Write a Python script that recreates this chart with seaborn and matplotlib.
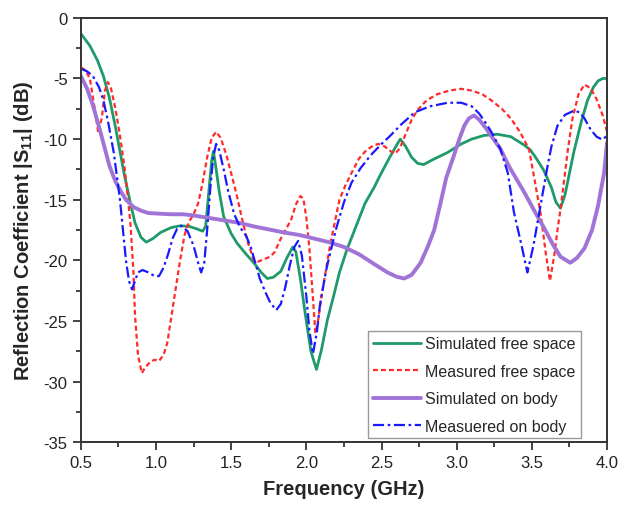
import matplotlib
matplotlib.use("Agg")
import matplotlib.pyplot as plt
import seaborn as sns
import pandas as pd

# ---- data ----
sim_free_x = [0.50, 0.56, 0.61, 0.65, 0.69, 0.73, 0.76, 0.79, 0.83, 0.86, 0.90, 0.935, 0.98, 1.03, 1.10,
              1.16, 1.22, 1.27, 1.31, 1.33, 1.35, 1.37, 1.382, 1.40, 1.42, 1.45, 1.50, 1.54, 1.60, 1.65,
              1.70, 1.74, 1.78, 1.83, 1.87, 1.91, 1.93, 1.96, 1.99, 2.03, 2.067, 2.10, 2.14, 2.18, 2.22,
              2.27, 2.33, 2.39, 2.45, 2.49, 2.55, 2.60, 2.625, 2.66, 2.70, 2.74, 2.78, 2.84, 2.94, 3.03,
              3.10, 3.18, 3.27, 3.36, 3.45, 3.49, 3.53, 3.58, 3.63, 3.66, 3.69, 3.72, 3.75, 3.78, 3.83,
              3.87, 3.91, 3.94, 3.97, 4.00]
sim_free_y = [-1.3, -2.3, -3.5, -4.8, -6.6, -9.0, -11.0, -13.0, -15.3, -16.9, -18.1, -18.5, -18.2, -17.7, -17.3,
              -17.15, -17.2, -17.4, -17.6, -17.2, -14.5, -11.8, -11.0, -12.5, -14.3, -16.4, -17.8, -18.6, -19.5, -20.2,
              -21.0, -21.5, -21.4, -20.9, -19.8, -18.9, -19.3, -21.5, -24.2, -27.5, -29.0, -27.4, -24.9, -23.0, -21.0,
              -19.1, -17.2, -15.3, -14.0, -13.0, -11.6, -10.5, -10.0, -10.6, -11.5, -12.0, -12.1, -11.7, -11.1, -10.4,
              -10.0, -9.7, -9.6, -9.8, -10.5, -10.9, -11.6, -12.6, -14.0, -15.2, -15.7, -14.6, -12.8, -11.0, -8.5,
              -6.8, -5.7, -5.2, -5.0, -5.0]

meas_free_x = [0.50, 0.53, 0.56, 0.59, 0.616, 0.64, 0.66, 0.68, 0.70, 0.73, 0.76, 0.79, 0.81, 0.83, 0.85,
               0.86, 0.88, 0.905, 0.93, 0.96, 0.99, 1.02, 1.05, 1.075, 1.10, 1.13, 1.16, 1.19, 1.22, 1.25,
               1.28, 1.31, 1.34, 1.37, 1.40, 1.43, 1.47, 1.51, 1.54, 1.58, 1.61, 1.65, 1.68, 1.72, 1.76,
               1.79, 1.83, 1.87, 1.90, 1.93, 1.96, 1.98, 2.00, 2.02, 2.04, 2.06, 2.08, 2.10, 2.13, 2.16,
               2.19, 2.22, 2.26, 2.30, 2.35, 2.40, 2.45, 2.48, 2.52, 2.56, 2.59, 2.62, 2.66, 2.70, 2.74,
               2.80, 2.87, 2.95, 3.03, 3.10, 3.17, 3.23, 3.30, 3.36, 3.42, 3.48, 3.52, 3.56, 3.59, 3.62,
               3.65, 3.67, 3.69, 3.72, 3.74, 3.77, 3.81, 3.85, 3.89, 3.93, 3.97, 4.00]
meas_free_y = [-4.1, -4.3, -5.0, -7.3, -9.5, -8.2, -6.0, -5.3, -5.8, -7.5, -9.7, -12.3, -14.5, -17.0, -21.0,
               -24.5, -27.8, -29.3, -28.8, -28.4, -28.2, -28.3, -27.8, -26.8, -24.8, -22.4, -20.0, -17.9, -16.8, -16.2,
               -15.3, -13.6, -11.5, -9.9, -9.4, -9.9, -11.4, -13.3, -14.8, -17.0, -18.5, -20.0, -20.1, -19.9, -19.7,
               -19.3, -18.2, -17.3, -16.6, -15.4, -14.7, -14.9, -16.5, -19.0, -22.5, -26.0, -24.8, -23.0, -20.8, -18.6,
               -16.8, -15.0, -13.8, -12.8, -11.6, -10.9, -10.5, -10.4, -10.6, -11.0, -11.2, -10.8, -9.6, -8.4, -7.6,
               -6.8, -6.3, -6.0, -5.85, -6.0, -6.3, -6.8, -7.5, -8.3, -9.4, -10.8, -13.5, -16.3, -19.2, -21.7,
               -19.5, -17.5, -15.8, -12.8, -10.8, -8.3, -6.3, -5.5, -5.8, -6.7, -8.0, -9.4]

sim_body_x = [0.50, 0.54, 0.58, 0.63, 0.66, 0.69, 0.73, 0.77, 0.80, 0.85, 0.90, 0.95, 1.02, 1.10, 1.18,
              1.25, 1.35, 1.45, 1.55, 1.65, 1.75, 1.85, 1.95, 2.05, 2.15, 2.25, 2.35, 2.45, 2.54, 2.60,
              2.65, 2.70, 2.76, 2.81, 2.85, 2.89, 2.93, 2.98, 3.02, 3.05, 3.08, 3.115, 3.15, 3.20, 3.29,
              3.35, 3.45, 3.52, 3.58, 3.64, 3.69, 3.755, 3.80, 3.85, 3.90, 3.94, 3.98, 4.00]
sim_body_y = [-4.8, -5.8, -7.2, -9.4, -10.8, -12.2, -13.5, -14.4, -15.0, -15.6, -15.9, -16.1, -16.15, -16.2, -16.2,
              -16.3, -16.5, -16.7, -16.9, -17.2, -17.45, -17.7, -17.9, -18.2, -18.5, -18.9, -19.5, -20.3, -21.0, -21.35,
              -21.5, -21.2, -20.2, -18.8, -17.5, -15.4, -13.2, -11.4, -9.9, -8.9, -8.3, -8.05, -8.4, -9.2, -10.8,
              -12.3, -14.4, -16.0, -17.3, -18.7, -19.7, -20.2, -19.8, -19.0, -17.5, -15.5, -12.8, -10.3]

meas_body_x = [0.50, 0.54, 0.58, 0.62, 0.65, 0.68, 0.72, 0.76, 0.78, 0.80, 0.82, 0.84, 0.86, 0.88, 0.91,
               0.95, 0.99, 1.02, 1.05, 1.08, 1.11, 1.14, 1.17, 1.21, 1.25, 1.28, 1.30, 1.32, 1.34, 1.36,
               1.38, 1.40, 1.42, 1.45, 1.48, 1.52, 1.56, 1.60, 1.63, 1.66, 1.69, 1.73, 1.76, 1.80, 1.83,
               1.86, 1.89, 1.92, 1.945, 1.97, 2.00, 2.02, 2.044, 2.07, 2.09, 2.13, 2.16, 2.20, 2.25, 2.30,
               2.36, 2.43, 2.50, 2.56, 2.63, 2.72, 2.82, 2.94, 3.03, 3.10, 3.15, 3.20, 3.23, 3.29, 3.34,
               3.38, 3.43, 3.47, 3.51, 3.56, 3.60, 3.63, 3.67, 3.72, 3.78, 3.82, 3.85, 3.89, 3.93, 3.97,
               4.00]
meas_body_y = [-4.2, -4.4, -4.8, -5.7, -6.8, -8.5, -11.2, -15.0, -17.5, -20.0, -21.7, -22.4, -21.7, -21.0, -20.8,
               -21.0, -21.3, -21.3, -20.6, -19.5, -18.2, -17.4, -17.15, -17.6, -18.8, -20.2, -21.0, -20.3, -17.5, -14.2,
               -11.5, -10.4, -10.9, -12.5, -14.3, -16.2, -17.3, -18.0, -18.9, -20.2, -21.5, -22.7, -23.5, -24.1, -23.6,
               -22.2, -20.4, -18.9, -18.4, -19.6, -23.0, -25.8, -27.7, -25.9, -23.7, -20.9, -19.3, -17.3, -15.2, -13.6,
               -12.4, -11.3, -10.4, -9.7, -8.8, -7.8, -7.3, -7.0, -7.0, -7.3, -7.9, -8.8, -9.4, -10.8, -12.8,
               -16.0, -18.7, -21.0, -18.8, -15.3, -12.5, -10.6, -8.9, -8.0, -7.65, -7.8, -8.3, -9.2, -9.8, -10.05,
               -9.7]

labels = ["Simulated free space", "Measured free space", "Simulated on body", "Measuered on body"]
x_ticks = [0.5, 1.0, 1.5, 2.0, 2.5, 3.0, 3.5, 4.0]
y_ticks = [0, -5, -10, -15, -20, -25, -30, -35]

# ---- style ----
sns.set_style("ticks")
plt.rcParams["font.family"] = ["Liberation Sans", "DejaVu Sans"]
plt.rcParams["axes.unicode_minus"] = False
plt.rcParams["mathtext.fontset"] = "custom"
plt.rcParams["mathtext.rm"] = "Liberation Sans:bold"
plt.rcParams["mathtext.bf"] = "Liberation Sans:bold"
plt.rcParams["mathtext.it"] = "Liberation Sans:bold"

fig = plt.figure(figsize=(6.22, 5.10), dpi=100)
ax = fig.add_axes([0.130, 0.131, 0.846, 0.832])

series = [
    (sim_free_x, sim_free_y, "#1f9a6a", "-", 2.0),
    (meas_free_x, meas_free_y, "#ff2b2b", (0, (2.2, 1.4)), 1.6),
    (sim_body_x, sim_body_y, "#a073d6", "-", 2.8),
    (meas_body_x, meas_body_y, "#1a1aff", (0, (5, 1.6, 1.2, 1.6)), 1.6),
]
for (xs, ys, col, ls, lw), lab in zip(series, labels):
    df = pd.DataFrame({"f": xs, "s11": ys})
    sns.lineplot(data=df, x="f", y="s11", ax=ax, color=col, linestyle=ls,
                 linewidth=lw, label=lab, errorbar=None)

ax.set_xlim(0.5, 4.0)
ax.set_ylim(-35, 0)
ax.set_xticks(x_ticks)
ax.set_xticklabels([f"{v:.1f}" for v in x_ticks])
ax.set_yticks(y_ticks)
ax.set_yticklabels([str(v) for v in y_ticks])
ax.set_xticks([0.75 + 0.5 * i for i in range(7)], minor=True)
ax.set_yticks([-2.5 - 5 * i for i in range(7)], minor=True)
ax.tick_params(axis="both", which="major", direction="out", length=6, width=1.2,
               labelsize=12, colors="#222222", top=False, right=False)
ax.tick_params(axis="both", which="minor", direction="out", length=3.5, width=1.2,
               top=False, right=False)
for side in ["left", "bottom", "top", "right"]:
    ax.spines[side].set_visible(True)
    ax.spines[side].set_linewidth(1.4)
    ax.spines[side].set_color("#333333")

ax.set_xlabel("Frequency (GHz)", fontsize=14.5, fontweight="bold", labelpad=6)
ax.set_ylabel(r"Reflection Coefficient |S$_{\mathbf{11}}$| (dB)", fontsize=14.5,
              fontweight="bold", labelpad=6)

leg = ax.legend(loc="lower right", bbox_to_anchor=(0.950, 0.009), borderaxespad=0,
                fontsize=11.5, frameon=True, fancybox=False, edgecolor="#999999",
                framealpha=1, handlelength=3.0, handletextpad=0.3, labelspacing=0.78,
                borderpad=0.3)
leg.get_frame().set_linewidth(1.0)

fig.savefig("out.png", dpi=100)
